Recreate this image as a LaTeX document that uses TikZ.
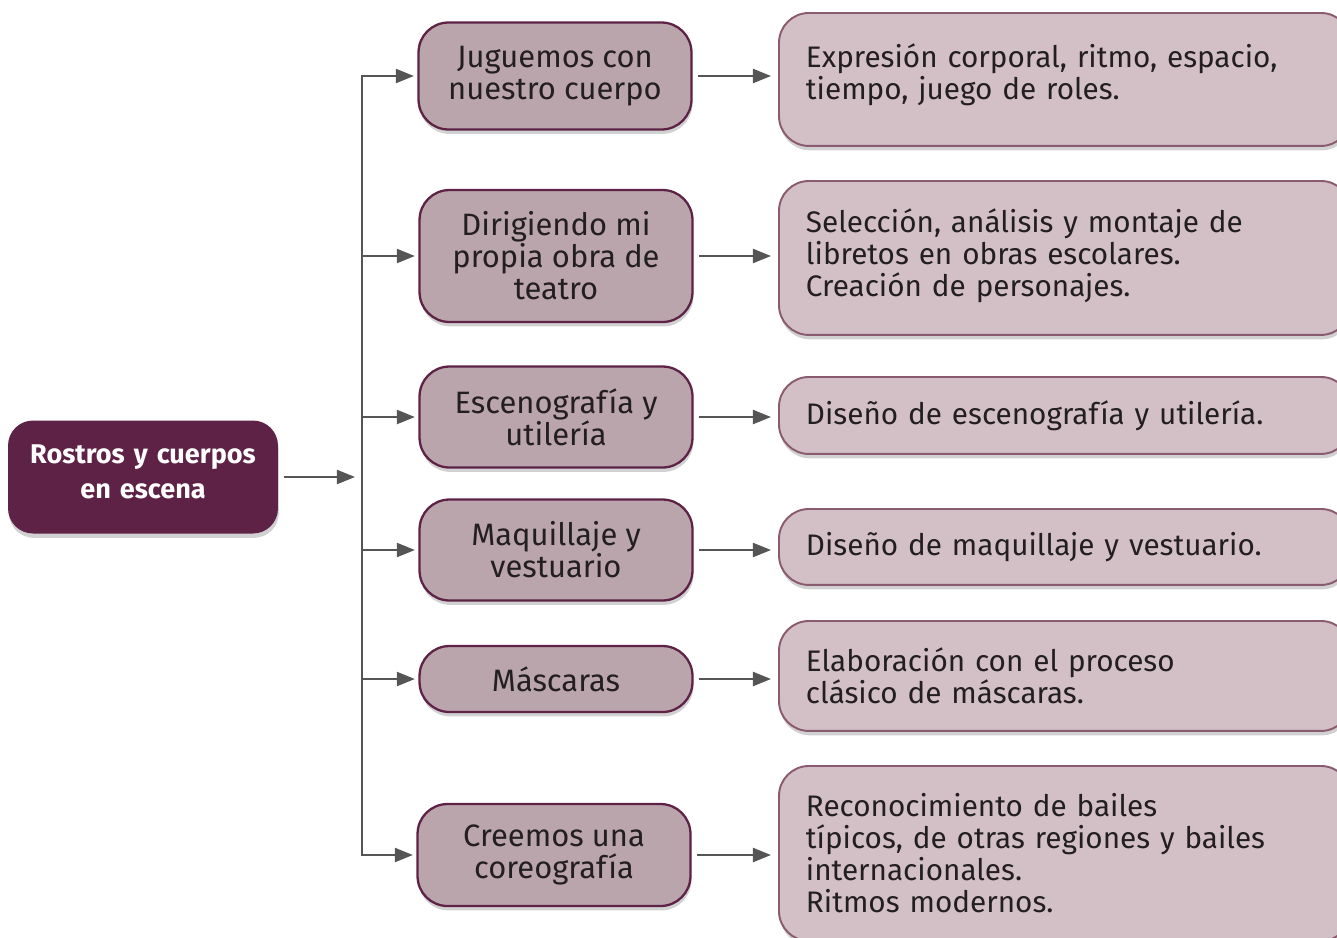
\documentclass[tikz,border=0pt]{standalone}
\usepackage{fontspec}
\setmainfont{Fira Sans}
\usetikzlibrary{positioning,arrows.meta,shadows}
\definecolor{mydark}{RGB}{94,34,70}
\definecolor{mymid}{RGB}{186,165,172}
\definecolor{mylight}{RGB}{211,192,198}
\definecolor{myedge}{RGB}{138,90,110}
\definecolor{myarrow}{RGB}{85,85,85}
\definecolor{mytext}{RGB}{35,31,32}

\begin{document}
\begin{tikzpicture}[x=0.02cm,y=-0.02cm,
  boxshadow/.style={drop shadow={shadow xshift=0.5pt,shadow yshift=-2.5pt,opacity=0.18,fill=black}},
  lifted/.style={execute at end node={\endgraf\vspace{#1}}},
  rootnode/.style={rounded corners=0.5cm,fill=mydark,text=white,boxshadow,
    minimum width=5.4cm,minimum height=2.26cm,text width=5.2cm,align=center,inner sep=0pt,
    font=\fontsize{15.4}{20}\selectfont\bfseries},
  topicnode/.style={rounded corners=0.6cm,fill=mymid,draw=mydark,line width=1.3pt,boxshadow,
    minimum width=5.46cm,align=center,inner sep=0pt,text=mytext,
    font=\fontsize{17.6}{18.2}\selectfont},
  descnode/.style={rounded corners=0.6cm,fill=mylight,draw=myedge,line width=1.1pt,boxshadow,
    text width=10.36cm,inner xsep=0.54cm,inner ysep=0pt,align=left,anchor=north west,
    text=mytext,font=\fontsize{16.9}{18.2}\selectfont},
  link/.style={myarrow,line width=1.2pt,-{Triangle[length=0.36cm,width=0.28cm]}}
]
\useasboundingbox (0,0) rectangle (1337,937);
\clip (0,0) rectangle (1337,937);

% the main topic
\node[rootnode,lifted=0.22cm] (root) at (143,477) {Rostros y cuerpos\\en escena};
\coordinate (split) at (362,477);

% the topics
\node[topicnode,minimum height=2.14cm] (t1) at (555,76) {Juguemos con\\nuestro cuerpo};
\node[topicnode,minimum height=2.64cm] (t2) at (556,256) {Dirigiendo mi\\propia obra de\\teatro};
\node[topicnode,minimum height=2.02cm] (t3) at (556,417) {Escenografía y\\utilería};
\node[topicnode,minimum height=2.02cm] (t4) at (556,550) {Maquillaje y\\vestuario};
\node[topicnode,minimum height=1.32cm] (t5) at (556,679) {Máscaras};
\node[topicnode,minimum height=2.04cm] (t6) at (554,855) {Creemos una\\coreografía};

% the descriptions
\node[descnode,lifted=0.2cm,minimum height=2.66cm] (d1) at (778,12) {Expresión corporal, ritmo, espacio,\\tiempo, juego de roles.};
\node[descnode,lifted=0.08cm,minimum height=3.08cm] (d2) at (778,180) {Selección, análisis y montaje de\\libretos en obras escolares.\\Creación de personajes.};
\node[descnode,minimum height=1.54cm] (d3) at (778,376) {Diseño de escenografía y utilería.};
\node[descnode,minimum height=1.52cm] (d4) at (778,508) {Diseño de maquillaje y vestuario.};
\node[descnode,minimum height=2.2cm] (d5) at (778,620) {Elaboración con el proceso\\clásico de máscaras.};
\node[descnode,minimum height=3.5cm] (d6) at (778,765) {Reconocimiento de bailes\\típicos, de otras regiones y bailes\\internacionales.\\Ritmos modernos.};

% the connectors
\draw[link,shorten <=3pt,shorten >=4pt] (root.east) -- (split);
\foreach \i in {1,...,6} {
  \draw[link,shorten >=2pt] (split) |- (t\i.west);
  \draw[link,shorten <=3pt,shorten >=4pt] (t\i.east) -- (t\i.east -| d\i.west);
}
\end{tikzpicture}
\end{document}
